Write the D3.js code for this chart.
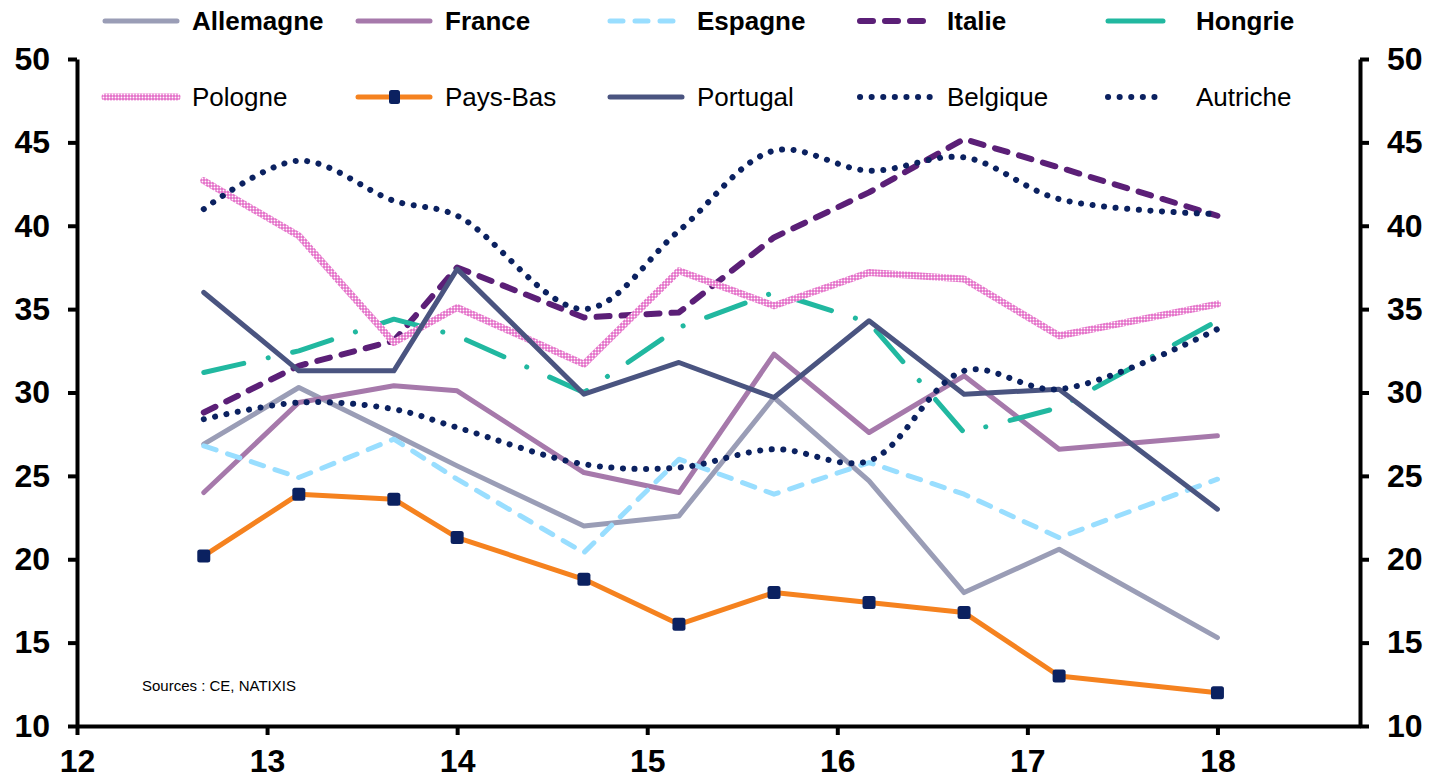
<!DOCTYPE html>
<html>
<head>
<meta charset="utf-8">
<script src="https://cdn.jsdelivr.net/npm/d3@7"></script>
<style>
  body { margin: 0; background: #fff; }
  svg { font-family: "Liberation Sans", Arial, sans-serif; }
</style>
</head>
<body>
<svg id="chart" width="1434" height="780"></svg>
<script>
// x positions (years, 2-digit)
const dates = [12.667, 13.167, 13.667, 14.0, 14.667, 15.167, 15.667, 16.167, 16.667, 17.167, 18.0];

const allemagne = [26.9, 30.3, 27.5, 25.6, 22.0, 22.6, 29.7, 24.7, 18.0, 20.6, 15.3];
const france    = [24.0, 29.4, 30.4, 30.1, 25.2, 24.0, 32.3, 27.6, 31.0, 26.6, 27.4];
const espagne   = [26.8, 24.9, 27.2, 24.8, 20.4, 26.0, 23.9, 25.8, 23.9, 21.3, 24.8];
const italie    = [28.8, 31.6, 33.1, 37.5, 34.5, 34.8, 39.3, 42.0, 45.2, 43.5, 40.6];
const hongrie   = [31.2, 32.5, 34.4, 33.4, 30.0, 33.9, 36.0, 34.2, 27.6, 29.1, 34.3];
const pologne   = [42.7, 39.4, 33.0, 35.1, 31.7, 37.3, 35.2, 37.2, 36.8, 33.4, 35.3];
const paysBas   = [20.2, 23.9, 23.6, 21.3, 18.8, 16.1, 18.0, 17.4, 16.8, 13.0, 12.0];
const portugal  = [36.0, 31.3, 31.3, 37.4, 29.9, 31.8, 29.7, 34.3, 29.9, 30.2, 23.0];
const belgique  = [41.0, 43.9, 41.5, 40.6, 35.0, 39.7, 44.5, 43.3, 44.1, 41.6, 40.7];
const autriche  = [28.4, 29.4, 29.0, 27.9, 25.7, 25.5, 26.6, 25.9, 31.3, 30.2, 33.8];

const yTicks = [10, 15, 20, 25, 30, 35, 40, 45, 50];
const xTicks = [12, 13, 14, 15, 16, 17, 18];

const navy = "#0B2160";

// drawing order = Excel series order (later on top)
const series = [
  { name: "Allemagne", values: allemagne, color: "#9A9DB6", width: 5, row: 0, col: 0 },
  { name: "France",    values: france,    color: "#A679AB", width: 5, row: 0, col: 1 },
  { name: "Espagne",   values: espagne,   color: "#99DEFF", width: 5, dash: "13 12", row: 0, col: 2 },
  { name: "Italie",    values: italie,    color: "#5B1F77", width: 6, dash: "13 12", row: 0, col: 3 },
  { name: "Hongrie",   values: hongrie,   color: "#21B8A0", width: 5, dash: "41 25 0.1 25", legendSolid: true, row: 0, col: 4 },
  { name: "Pologne",   values: pologne,   color: "url(#polPat)", width: 7, row: 1, col: 0 },
  { name: "Pays-Bas",  values: paysBas,   color: "#F5821F", width: 5, marker: true, row: 1, col: 1 },
  { name: "Portugal",  values: portugal,  color: "#4A5480", width: 5, row: 1, col: 2 },
  { name: "Belgique",  values: belgique,  color: navy, width: 6, dash: "0.1 11.5", smooth: true, row: 1, col: 3 },
  { name: "Autriche",  values: autriche,  color: navy, width: 6, dash: "0.1 11.5", smooth: true, row: 1, col: 4 }
];

const svg = d3.select("#chart");

// hatched pink pattern for Pologne
const defs = svg.append("defs");
const pat = defs.append("pattern")
  .attr("id", "polPat")
  .attr("patternUnits", "userSpaceOnUse")
  .attr("width", 3).attr("height", 3);
pat.append("rect").attr("width", 3).attr("height", 3).attr("fill", "#E46CC8");
pat.append("circle").attr("cx", 1.5).attr("cy", 1.5).attr("r", 0.95).attr("fill", "#fff");

const x = d3.scaleLinear().domain([12, 18.75]).range([77, 1360]);
const y = d3.scaleLinear().domain([10, 50]).range([726, 59]);

// axes
const styleAxis = g => {
  g.select(".domain").attr("stroke", "#000").attr("stroke-width", 4);
  g.selectAll(".tick line").attr("stroke", "#000").attr("stroke-width", 4);
  g.selectAll(".tick text")
    .attr("fill", "#000")
    .attr("font-size", 32)
    .attr("font-weight", "bold")
    .attr("font-family", "Liberation Sans, Arial, sans-serif");
};

svg.append("g")
  .attr("transform", `translate(${x(12)},0)`)
  .call(d3.axisLeft(y).tickValues(yTicks).tickSize(9).tickSizeOuter(0).tickPadding(18))
  .call(styleAxis);

svg.append("g")
  .attr("transform", `translate(${x(18.75)},0)`)
  .call(d3.axisRight(y).tickValues(yTicks).tickSize(9).tickSizeOuter(0).tickPadding(18))
  .call(styleAxis);

svg.append("g")
  .attr("transform", `translate(0,${y(10)})`)
  .call(d3.axisBottom(x).tickValues(xTicks).tickSize(9).tickSizeOuter(0).tickPadding(14).tickFormat(d3.format("d")))
  .call(styleAxis);

// lines
series.forEach(s => {
  const line = d3.line()
    .x((d, i) => x(dates[i]))
    .y(d => y(d))
    .curve(s.smooth ? d3.curveCatmullRom.alpha(0.5) : d3.curveLinear);

  svg.append("path")
    .datum(s.values)
    .attr("d", line)
    .attr("fill", "none")
    .attr("stroke", s.color)
    .attr("stroke-width", s.width)
    .attr("stroke-linecap", "round")
    .attr("stroke-linejoin", "round")
    .attr("stroke-dasharray", s.dash || null);

  if (s.marker) {
    svg.append("g").selectAll("rect")
      .data(s.values)
      .join("rect")
      .attr("x", (d, i) => x(dates[i]) - 6.5)
      .attr("y", d => y(d) - 6.5)
      .attr("width", 13).attr("height", 13)
      .attr("rx", 2.5)
      .attr("fill", navy);
  }
});

// legend
const colX = [105, 358, 610, 860, 1108];
const rowY = [21, 97];
const legend = svg.append("g");
series.forEach(s => {
  const lx = colX[s.col], ly = rowY[s.row];
  const len = s.col === 4 ? 55 : 72;
  legend.append("line")
    .attr("x1", lx).attr("x2", lx + len)
    .attr("y1", ly).attr("y2", ly)
    .attr("stroke", s.color)
    .attr("stroke-width", s.width)
    .attr("stroke-linecap", "round")
    .attr("stroke-dasharray", s.legendSolid ? null : (s.dash || null));
  if (s.marker) {
    legend.append("rect")
      .attr("x", lx + len / 2 - 5).attr("y", ly - 7)
      .attr("width", 11).attr("height", 14).attr("rx", 2.5)
      .attr("fill", navy);
  }
  legend.append("text")
    .attr("x", s.col === 4 ? 1196 : lx + len + 15)
    .attr("y", ly)
    .attr("dy", "0.35em")
    .attr("font-size", 26)
    .attr("font-weight", s.row === 0 ? "bold" : "normal")
    .attr("fill", "#000")
    .text(s.name);
});

svg.append("text")
  .attr("x", 142).attr("y", 686)
  .attr("dy", "0.35em")
  .attr("font-size", 15)
  .attr("fill", "#000")
  .text("Sources : CE, NATIXIS");
</script>
</body>
</html>
